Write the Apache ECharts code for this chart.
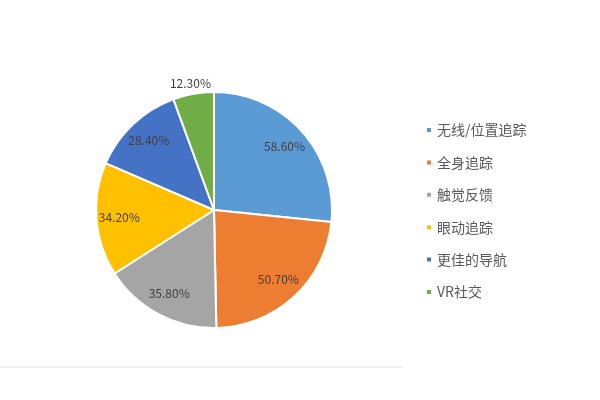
<!DOCTYPE html>
<html>
<head>
<meta charset="utf-8">
<script src="https://cdn.jsdelivr.net/npm/echarts@6/dist/echarts.min.js"></script>
<style>
  html, body { margin: 0; padding: 0; background: #fff; }
  #chart { width: 600px; height: 400px; }
</style>
</head>
<body>
<div id="chart"></div>
<script>
const categories = ['无线/位置追踪', '全身追踪', '触觉反馈', '眼动追踪', '更佳的导航', 'VR社交']
const values = [58.6, 50.7, 35.8, 34.2, 28.4, 12.3]
const colors = ['#5B9BD5', '#ED7D31', '#A5A5A5', '#FFC000', '#4472C4', '#70AD47']

const chart = echarts.init(document.getElementById('chart'))

const fmt = p => p.value.toFixed(2) + '%'
const labelFont = { color: '#404040', fontSize: 12, fontFamily: 'Noto Sans CJK SC' }

// main pie: only the small slice gets an outside label
const mainData = categories.map((name, i) => ({
  name,
  value: values[i],
  itemStyle: { color: colors[i] },
  label: i === 5 ? { show: true, position: 'outside' } : { show: false },
  labelLine: { show: false }
}))

// invisible helper ring, so the inside labels sit further out than half radius
const labelData = categories.map((name, i) => ({
  name,
  value: values[i],
  label: { show: i !== 5 }
}))

const option = {
  animation: false,
  legend: {
    orient: 'vertical',
    left: 425,
    top: 123,
    padding: 0,
    icon: 'rect',
    itemWidth: 6,
    itemHeight: 6,
    itemGap: 18.4,
    data: categories,
    textStyle: { color: '#595959', fontSize: 14, fontFamily: 'Noto Sans CJK SC' }
  },
  graphic: [{
    type: 'line',
    shape: { x1: 0, y1: 367, x2: 403, y2: 367 },
    style: { stroke: '#e2e2e2', lineWidth: 1 },
    silent: true
  }],
  series: [
    {
      name: 'main',
      type: 'pie',
      center: [214, 210],
      radius: 118,
      startAngle: 90,
      clockwise: true,
      itemStyle: { borderColor: '#fff', borderWidth: 2 },
      label: Object.assign({ formatter: fmt }, labelFont),
      labelLine: { show: false, length: 8, length2: 0 },
      labelLayout: p => (p.dataIndex === 5 ? { dx: 24, dy: -3 } : {}),
      emphasis: { disabled: true },
      data: mainData
    },
    {
      name: 'labels',
      type: 'pie',
      center: [214, 210],
      radius: [0, 184],
      startAngle: 90,
      clockwise: true,
      silent: true,
      z: 5,
      itemStyle: { color: 'rgba(0,0,0,0)' },
      label: Object.assign({ position: 'inside', formatter: fmt }, labelFont),
      labelLine: { show: false },
      emphasis: { disabled: true },
      data: labelData
    }
  ]
}

chart.setOption(option)
</script>
</body>
</html>
